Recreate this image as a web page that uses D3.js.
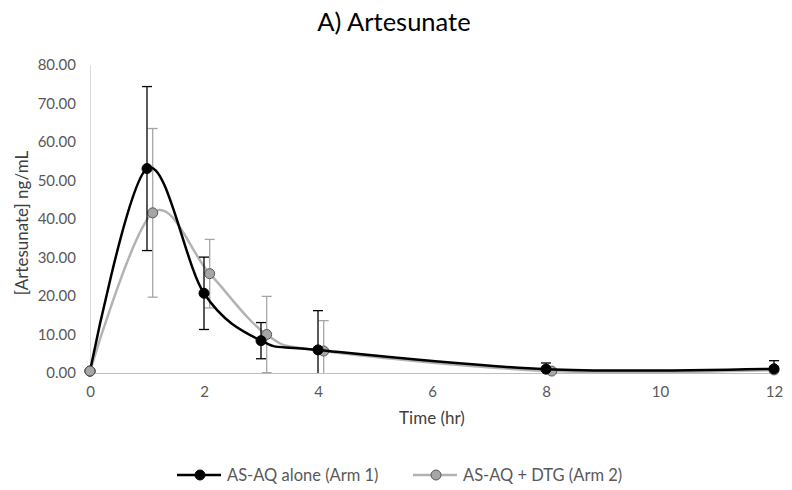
<!DOCTYPE html>
<html>
<head>
<meta charset="utf-8">
<script src="https://cdn.jsdelivr.net/npm/d3@7"></script>
<style>
  body { margin: 0; background: #fff; }
  text { font-family: Lato, "Open Sans", sans-serif; }
</style>
</head>
<body>
<script>
// Width and height
var w = 792;
var h = 490;

// data
var title = "A) Artesunate";
var timeArm1 = [0, 1, 2, 3, 4, 8, 12];
var concArm1 = [0.5, 53.1, 20.7, 8.4, 6.0, 1.0, 1.1];
var errArm1  = [0, 21.3, 9.4, 4.7, 10.2, 1.6, 2.1];
var timeArm2 = [0, 1.1, 2.1, 3.1, 4.1, 8.1, 12];
var concArm2 = [0.5, 41.6, 25.8, 10.0, 5.7, 0.5, 0.8];
var errArm2  = [0, 21.9, 8.9, 9.9, 7.9, 0.5, 0.6];
var xTicks = [0, 2, 4, 6, 8, 10, 12];
var yTicks = [0, 10, 20, 30, 40, 50, 60, 70, 80];
var seriesNames = ["AS-AQ alone (Arm 1)", "AS-AQ + DTG (Arm 2)"];

var arm1 = timeArm1.map(function(t, i) { return {t: t, c: concArm1[i], e: errArm1[i]}; });
var arm2 = timeArm2.map(function(t, i) { return {t: t, c: concArm2[i], e: errArm2[i]}; });

var x = d3.scaleLinear().domain([0, 12]).range([90, 774]);
var y = d3.scaleLinear().domain([0, 80]).range([373, 65]);

//Create SVG element
var svg = d3.select("body")
            .append("svg")
            .attr("width", w)
            .attr("height", h);

// title
svg.append("text")
   .attr("x", 394)
   .attr("y", 31)
   .attr("text-anchor", "middle")
   .attr("font-size", "25.5px")
   .attr("fill", "#000")
   .text(title);

// axes
var yAxis = svg.append("g")
   .attr("transform", "translate(90,0)")
   .call(d3.axisLeft(y).tickValues(yTicks).tickSize(0).tickPadding(14)
         .tickFormat(d3.format(".2f")));
yAxis.select(".domain").attr("stroke", "#d9d9d9");
yAxis.selectAll("text").attr("font-size", "15px").attr("fill", "#595959")
     .attr("font-family", "Lato, sans-serif");

var xAxis = svg.append("g")
   .attr("transform", "translate(0,373)")
   .call(d3.axisBottom(x).tickValues(xTicks).tickSize(0).tickPadding(13));
xAxis.select(".domain").attr("stroke", "#bfbfbf");
xAxis.selectAll("text").attr("font-size", "15px").attr("fill", "#595959")
     .attr("font-family", "Lato, sans-serif");

// axis titles
svg.append("text")
   .attr("transform", "translate(28,223) rotate(-90)")
   .attr("text-anchor", "middle")
   .attr("font-size", "17px")
   .attr("fill", "#404040")
   .text("[Artesunate] ng/mL");

svg.append("text")
   .attr("x", 432)
   .attr("y", 424)
   .attr("text-anchor", "middle")
   .attr("font-size", "17px")
   .attr("fill", "#404040")
   .text("Time (hr)");

var line = d3.line()
   .x(function(d) { return x(d.t); })
   .y(function(d) { return y(d.c); })
   .curve(d3.curveCardinal.tension(0));

function drawSeries(data, col, lineCol, fill, stroke) {
    var g = svg.append("g");
    // error bars
    var eb = g.selectAll("g.err")
       .data(data.filter(function(d) { return d.e > 0; }))
       .enter()
       .append("g")
       .attr("stroke", col)
       .attr("stroke-width", 1.3);
    eb.append("line")
       .attr("x1", function(d) { return x(d.t); })
       .attr("x2", function(d) { return x(d.t); })
       .attr("y1", function(d) { return y(Math.max(0, d.c - d.e)); })
       .attr("y2", function(d) { return y(d.c + d.e); });
    eb.append("line")
       .attr("x1", function(d) { return x(d.t) - 5; })
       .attr("x2", function(d) { return x(d.t) + 5; })
       .attr("y1", function(d) { return y(d.c + d.e); })
       .attr("y2", function(d) { return y(d.c + d.e); });
    eb.filter(function(d) { return d.c - d.e > 0; })
       .append("line")
       .attr("x1", function(d) { return x(d.t) - 5; })
       .attr("x2", function(d) { return x(d.t) + 5; })
       .attr("y1", function(d) { return y(d.c - d.e); })
       .attr("y2", function(d) { return y(d.c - d.e); });
    g.append("path")
       .datum(data)
       .attr("d", line)
       .attr("fill", "none")
       .attr("stroke", lineCol)
       .attr("stroke-width", 2.5);
    g.selectAll("circle")
       .data(data)
       .enter()
       .append("circle")
       .attr("cx", function(d) { return x(d.t); })
       .attr("cy", function(d) { return y(d.c); })
       .attr("r", 5)
       .attr("fill", fill)
       .attr("stroke", stroke)
       .attr("stroke-width", 1);
}

drawSeries(arm2, "#a6a6a6", "#b3b3b3", "#a6a6a6", "#595959");
drawSeries(arm1, "#000", "#000", "#000", "#000");

// gray point at 0 sits on top
svg.append("circle")
   .attr("cx", x(timeArm2[0]))
   .attr("cy", y(concArm2[0]))
   .attr("r", 5)
   .attr("fill", "#a6a6a6")
   .attr("stroke", "#595959");

// legend
var legend = [
  {name: seriesNames[0], x: 177, lineCol: "#000", fill: "#000", stroke: "#000"},
  {name: seriesNames[1], x: 413, lineCol: "#b3b3b3", fill: "#a6a6a6", stroke: "#595959"}
];
var lg = svg.selectAll("g.legend")
   .data(legend)
   .enter()
   .append("g")
   .attr("transform", function(d) { return "translate(" + d.x + ",475)"; });
lg.append("line")
   .attr("x1", 0).attr("x2", 44)
   .attr("stroke", function(d) { return d.lineCol; })
   .attr("stroke-width", 2.5);
lg.append("circle")
   .attr("cx", 23).attr("r", 5)
   .attr("fill", function(d) { return d.fill; })
   .attr("stroke", function(d) { return d.stroke; });
lg.append("text")
   .attr("x", 50)
   .attr("y", 5.5)
   .attr("font-size", "16.5px")
   .attr("fill", "#595959")
   .text(function(d) { return d.name; });
</script>
</body>
</html>
